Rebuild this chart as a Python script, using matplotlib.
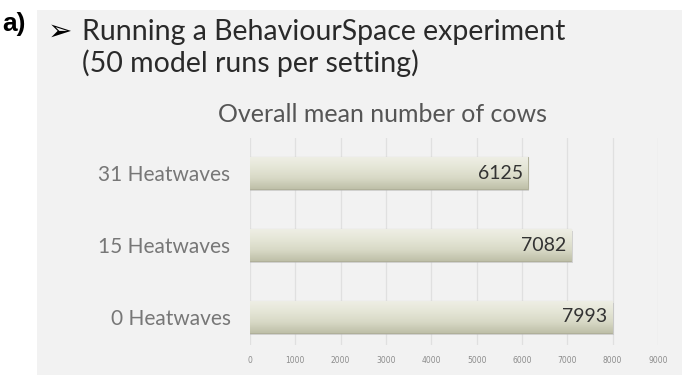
import matplotlib.pyplot as plt
import numpy as np

# mean herd size for each heatwave setting (50 runs each)
settings = ["0 Heatwaves", "15 Heatwaves", "31 Heatwaves"]
mean_cows = [7993, 7082, 6125]
xticks = [0, 1000, 2000, 3000, 4000, 5000, 6000, 7000, 8000, 9000]

fig = plt.figure(figsize=(6.82, 3.75), dpi=100)
fig.patch.set_facecolor("white")

# grey slide panel behind everything
panel = fig.add_axes([37 / 682, 0, 1 - 37 / 682, 1 - 10 / 375])
panel.set_facecolor("#f2f2f2")
panel.set_xticks([])
panel.set_yticks([])
for s in panel.spines.values():
    s.set_visible(False)

fig.text(2 / 682, 1 - 31 / 375, "a)", fontsize=19, fontweight="bold",
         family="Liberation Sans", color="black")
fig.text(48 / 682, 1 - 40 / 375, "\u27a2", fontsize=21, family="DejaVu Sans",
         color="black")
fig.text(82 / 682, 1 - 40 / 375, "Running a BehaviourSpace experiment",
         fontsize=20.5, family="Lato", color="#2a2a2a")
fig.text(82 / 682, 1 - 72 / 375, "(50 model runs per setting)",
         fontsize=20.5, family="Lato", color="#2a2a2a")

ax = fig.add_axes([250 / 682, 1 - 345 / 375, 408 / 682, 207 / 375])
ax.patch.set_alpha(0)
ypos = np.arange(len(settings))
bh = 0.45

bars = ax.barh(ypos, mean_cows, height=bh, color="#d9d9c6",
               edgecolor="#b0b09a", linewidth=0.8, zorder=3)

# vertical shading on each bar, light at the top, darker at the bottom
grad = np.linspace(0, 1, 64).reshape(-1, 1)
cmap = plt.matplotlib.colors.LinearSegmentedColormap.from_list(
    "bar", ["#bfc0a9", "#d8d9c6", "#e5e6d7", "#efefe6"])
for b in bars:
    x0, y0 = b.get_x(), b.get_y()
    im = ax.imshow(grad, cmap=cmap, aspect="auto", origin="lower",
                   extent=[x0, x0 + b.get_width(), y0, y0 + b.get_height()],
                   zorder=4)
    im.set_clip_path(b)
    # soft drop shadow under the bar
    ax.barh(y0 + b.get_height() / 2 - 0.025, b.get_width() + 40, height=bh,
            left=x0, color="#b5b5b5", alpha=0.5, zorder=2, linewidth=0)

for y, v in zip(ypos, mean_cows):
    ax.text(v - 110, y, str(v), ha="right", va="center", fontsize=14,
            family="Lato", color="#333333", zorder=6)

ax.set_xlim(0, 9000)
ax.set_ylim(-0.39, 2.49)
ax.set_xticks(xticks)
ax.set_xticklabels([str(t) for t in xticks], fontsize=5.5, color="#8c8c8c",
                   family="DejaVu Sans")
ax.set_yticks(ypos)
ax.set_yticklabels(settings, fontsize=15, color="#777777", family="Lato")
ax.tick_params(axis="both", length=0)
ax.tick_params(axis="x", pad=8)
ax.tick_params(axis="y", pad=14)
ax.grid(axis="x", color="#e0e0e0", linewidth=0.9, zorder=0)
for s in ax.spines.values():
    s.set_visible(False)

fig.text(383 / 682, 1 - 115 / 375, "Overall mean number of cows",
         ha="center", va="center", fontsize=18, family="Lato",
         color="#555555")

fig.savefig("out.png", dpi=100, facecolor=fig.get_facecolor())
